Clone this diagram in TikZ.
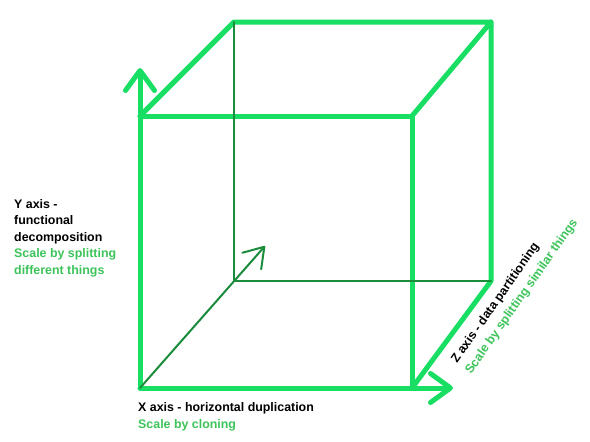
\documentclass[tikz,border=0pt]{standalone}
\usepackage{fontspec}
\setmainfont{Liberation Sans}
\usetikzlibrary{arrows.meta}
\definecolor{cubegreen}{HTML}{18DE64}
\definecolor{darkgreen}{HTML}{1A8C3C}
\definecolor{textgreen}{HTML}{3CC45A}
\begin{document}
\begin{tikzpicture}[x=1pt,y=-1pt,
  thickedge/.style={draw=cubegreen,line width=5pt,line cap=round,line join=round},
  thinedge/.style={draw=darkgreen,line width=2pt,line cap=round,line join=round},
  bigtip/.style={-{Straight Barb[length=20pt,width=29pt,round]}},
  smalltip/.style={-{Straight Barb[length=19pt,width=25pt,round]}},
  lbl/.style={font=\bfseries\fontsize{12.4}{16.5}\selectfont,inner sep=0pt,align=left,anchor=base west}]
\useasboundingbox[fill=white] (0,0) rectangle (590,442);
\coordinate (A) at (140,388);
\coordinate (B) at (412,388);
\coordinate (C) at (412,116);
\coordinate (D) at (140,116);
\coordinate (E) at (234,22);
\coordinate (F) at (491,22);
\coordinate (G) at (491,281);
\coordinate (H) at (234,281);
\coordinate (Ytip) at (140,68);
\coordinate (Xtip) at (453,388);
\coordinate (Ztip) at (265,246);
% thick green edges
\draw[thickedge] (D) -- (C) -- (B);
\draw[thickedge] (D) -- (E) -- (F) -- (C);
\draw[thickedge] (F) -- (G) -- (B);
\draw[thickedge,bigtip] (A) -- (Ytip);
\draw[thickedge,bigtip] (A) -- (Xtip);
% thin hidden edges
\draw[thinedge] (E) -- (H) -- (G);
\draw[thinedge,smalltip] (A) -- (Ztip);
% labels (base anchor = baseline of last line)
\node[lbl] (ylab) at (14,274) {Y axis -\\functional\\decomposition\\\textcolor{textgreen}{Scale by splitting}\\\textcolor{textgreen}{different things}};
\node[lbl] (xlab) at (138,428) {X axis - horizontal duplication\\\textcolor{textgreen}{Scale by cloning}};
\node[lbl,rotate=55] (zlab1) at (457,364) {Z axis - data partitioning};
\node[lbl,rotate=55,text=textgreen] (zlab2) at (471,375) {Scale by splitting similar things};
\end{tikzpicture}
\end{document}
